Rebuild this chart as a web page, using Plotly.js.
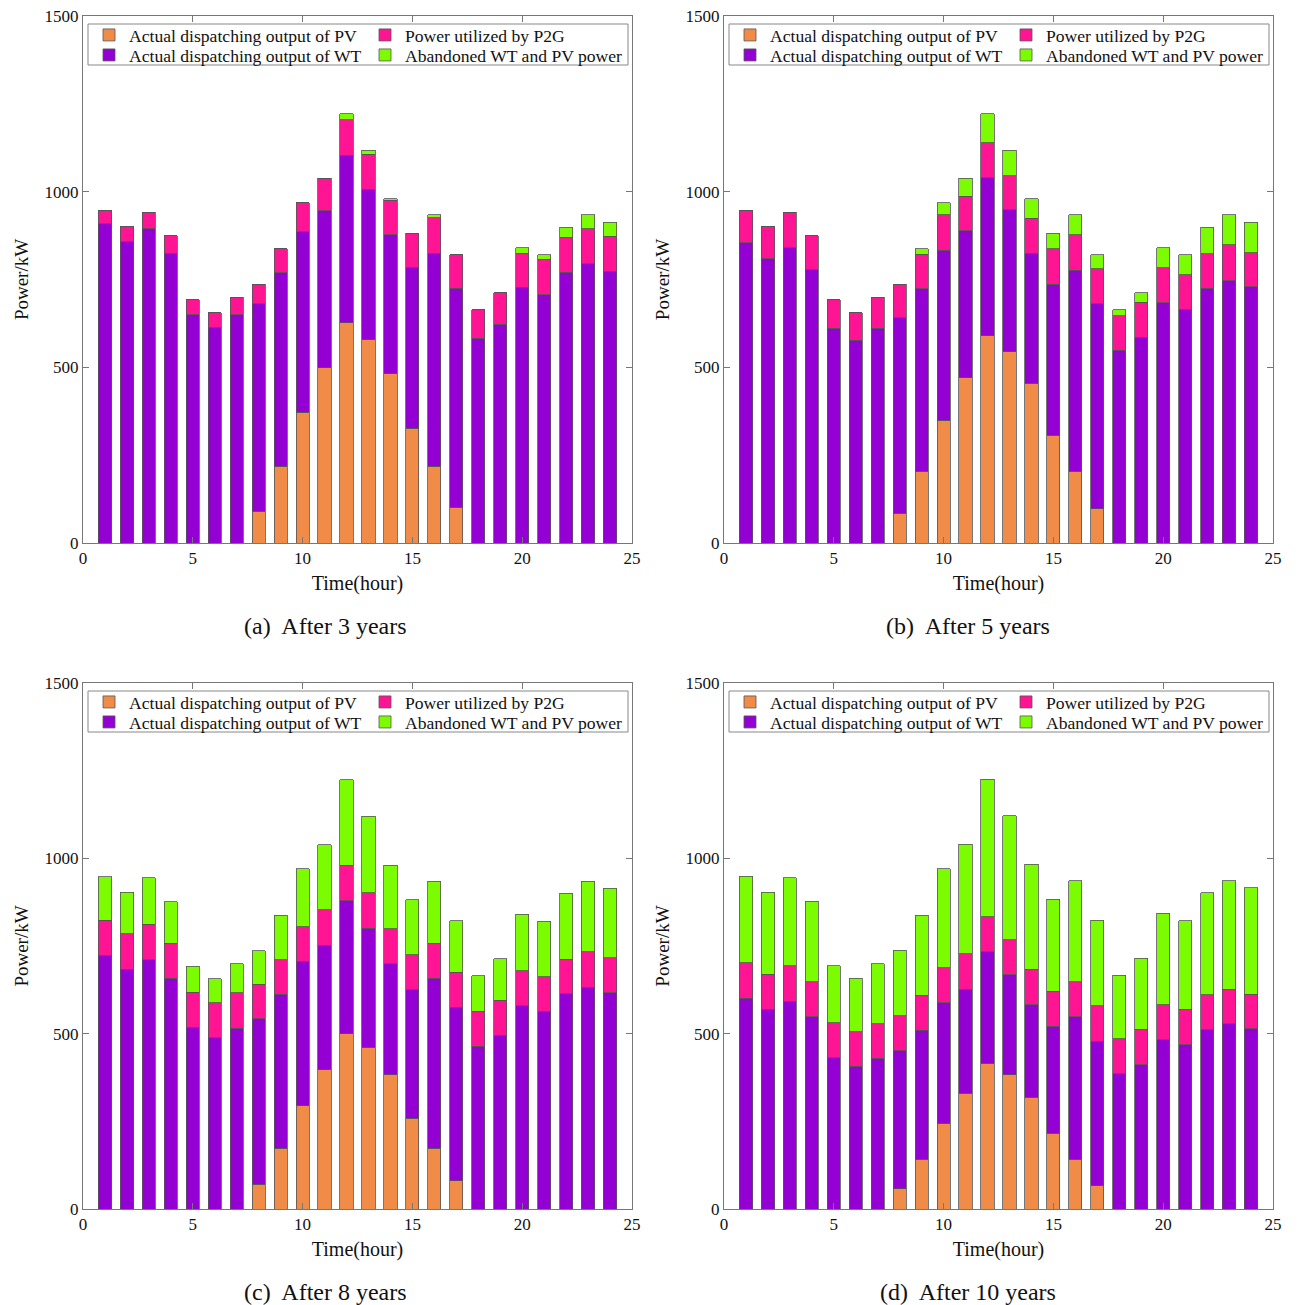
<!DOCTYPE html>
<html>
<head>
<meta charset="utf-8">
<script src="https://cdn.plot.ly/plotly-3.0.1.min.js"></script>
<style>html,body{margin:0;padding:0;background:#fff;}#chart{width:1300px;height:1305px;}</style>
</head>
<body>
<div id="chart"></div>
<script>
const hours = [1,2,3,4,5,6,7,8,9,10,11,12,13,14,15,16,17,18,19,20,21,22,23,24];
const seriesNames = ["Actual dispatching output of PV","Actual dispatching output of WT","Power utilized by P2G","Abandoned WT and PV power"];
const panelCaptions = ["(a)  After 3 years","(b)  After 5 years","(c)  After 8 years","(d)  After 10 years"];
const xTicks = [0,5,10,15,20,25];
const yTicks = [0,500,1000,1500];

// Panel (a) After 3 years
const pvA  = [0,0,0,0,0,0,0,90,218,372,499,627,578,482,326,218,102,0,0,0,0,0,0,0];
const wtA  = [908,858,895,825,650,614,649,591,551,514,446,477,429,396,459,607,623,583,622,728,706,771,795,773];
const p2gA = [39,42,47,49,42,42,50,55,68,82,93,100,99,98,96,101,95,81,91,97,101,99,99,100];
const abA  = [0,0,0,0,0,0,0,0,0,0,0,18,12,4,0,8,0,0,0,15,13,29,40,40];

// Panel (b) After 5 years
const pvB  = [0,0,0,0,0,0,0,85,204,350,470,590,544,454,307,204,97,0,0,0,0,0,0,0];
const wtB  = [854,809,841,778,611,577,611,556,520,483,419,449,404,371,430,573,584,548,585,684,665,725,747,729];
const p2gB = [93,91,101,96,81,79,88,95,98,101,98,100,98,100,101,100,99,99,100,99,99,98,102,97];
const abB  = [0,0,0,0,0,0,0,0,15,34,51,83,72,55,43,57,40,17,28,57,56,76,85,87];

// Panel (c) After 8 years
const pvC  = [0,0,0,0,0,0,0,71,173,295,397,500,461,383,259,173,80,0,0,0,0,0,0,0];
const wtC  = [723,683,711,658,518,488,516,471,440,412,355,379,340,317,366,485,495,464,495,579,564,614,632,616];
const p2gC = [100,102,101,100,100,100,100,99,98,98,102,102,101,99,100,100,100,100,100,100,99,98,102,100];
const abC  = [124,118,132,118,74,69,84,95,126,165,185,243,218,182,157,176,147,101,119,161,158,188,200,198];

// Panel (d) After 10 years
const pvD  = [0,0,0,0,0,0,0,58,142,245,330,415,383,319,216,142,66,0,0,0,0,0,0,0];
const wtD  = [601,570,593,548,431,407,430,393,368,343,296,319,285,264,305,406,413,385,412,482,469,511,528,514];
const p2gD = [101,99,101,100,100,99,99,100,99,100,102,99,100,100,100,100,101,101,100,101,100,100,99,99];
const abD  = [247,235,251,229,163,152,171,187,229,283,312,393,354,300,262,288,243,180,203,260,253,291,309,303];

const panels = [[pvA,wtA,p2gA,abA],[pvB,wtB,p2gB,abB],[pvC,wtC,p2gC,abC],[pvD,wtD,p2gD,abD]];
const colors = ["#F08C48","#9400D3","#FF1493","#7CFC00"];

const W = 1300, H = 1305;
const xDom = [[83/W,632/W],[724/W,1273/W],[83/W,632/W],[724/W,1273/W]];
const yDom = [[1-543/H,1-16/H],[1-543/H,1-16/H],[1-1209/H,1-683/H],[1-1209/H,1-683/H]];
const panelDx = [0,641,0,641];
const panelDy = [0,0,667,667];
// legend cell positions in pixels (left, top) relative to panel (a): PV, WT, P2G, Ab
const cellX = [89,89,365,365];
const cellY = [17,37,17,37];
const FONT = "Liberation Serif, Times New Roman, serif";

const traces = [];
const layout = {
  width: W, height: H,
  margin: {l:0,r:0,t:0,b:0},
  paper_bgcolor: "#fff", plot_bgcolor: "#fff",
  barmode: "stack",
  bargap: 0.4,
  font: {family: FONT, size: 16, color: "#111"},
  annotations: [],
  shapes: [],
  showlegend: true
};

let legendIdx = 0;
panels.forEach((p, i) => {
  const n = i + 1;
  const xa = n === 1 ? "x" : "x" + n;
  const ya = n === 1 ? "y" : "y" + n;
  p.forEach((vals, k) => {
    legendIdx += 1;
    const lg = legendIdx === 1 ? "legend" : "legend" + legendIdx;
    traces.push({
      type: "bar", x: hours, y: vals, name: seriesNames[k],
      xaxis: xa, yaxis: ya, legend: lg,
      marker: {color: colors[k], line: {color: "#555", width: 0.8}},
      hoverinfo: "x+y+name"
    });
    layout[lg] = {
      x: (cellX[k] + panelDx[i]) / W, y: 1 - (cellY[k] + panelDy[i]) / H,
      xanchor: "left", yanchor: "top", xref: "paper", yref: "paper",
      bgcolor: "rgba(0,0,0,0)", borderwidth: 0,
      font: {family: FONT, size: 17.6, color: "#111"}, itemwidth: 30
    };
  });
  const axBase = {
    showline: true, mirror: "ticks", linecolor: "#777", linewidth: 1,
    ticks: "inside", ticklen: 6, tickcolor: "#777", showgrid: false, zeroline: false,
    tickfont: {family: FONT, size: 17, color: "#111"}
  };
  layout["xaxis" + (n===1?"":n)] = Object.assign({}, axBase, {
    domain: xDom[i], anchor: ya, range: [0,25], tickvals: xTicks, ticktext: xTicks.map(String),
    title: {text: "Time(hour)", font: {family: FONT, size: 20, color: "#111"}, standoff: 8}
  });
  layout["yaxis" + (n===1?"":n)] = Object.assign({}, axBase, {
    domain: yDom[i], anchor: xa, range: [0,1500], tickvals: yTicks, ticktext: yTicks.map(String),
    title: {text: "Power/kW", font: {family: FONT, size: 19, color: "#111"}, standoff: 10}
  });
  // legend frame
  layout.shapes.push({
    type: "rect", xref: "paper", yref: "paper", layer: "above",
    x0: (88 + panelDx[i]) / W, x1: (628 + panelDx[i]) / W,
    y0: 1 - (65 + panelDy[i]) / H, y1: 1 - (24 + panelDy[i]) / H,
    fillcolor: "#fff", line: {color: "#888", width: 1}
  });
  layout.annotations.push({
    xref: "paper", yref: "paper", x: (i % 2 === 0 ? 325 : 968) / W, y: (i < 2 ? 1 - 626/H : 1 - 1292/H),
    xanchor: "center", yanchor: "middle", showarrow: false,
    text: panelCaptions[i], font: {family: FONT, size: 24, color: "#111"}
  });
});

Plotly.newPlot("chart", traces, layout, {displayModeBar: false, staticPlot: true});
</script>
</body>
</html>
